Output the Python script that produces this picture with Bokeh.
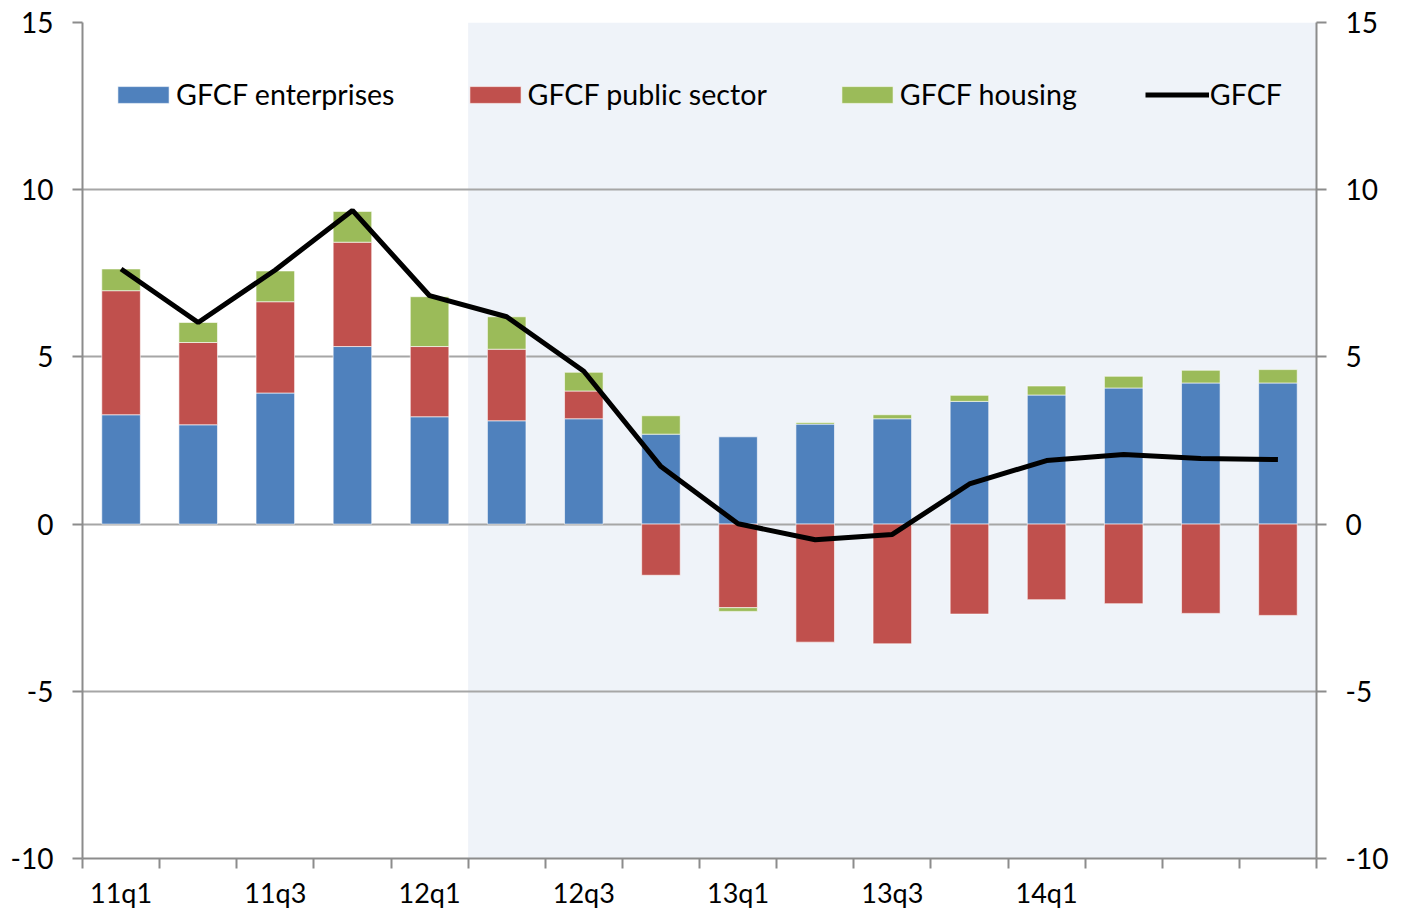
from bokeh.plotting import figure
from bokeh.models import (ColumnDataSource, LinearAxis, FixedTicker, BoxAnnotation,
                          Legend, LegendItem, Range1d)
from bokeh.embed import file_html
from bokeh.resources import INLINE

quarters = ["11q1", "11q2", "11q3", "11q4", "12q1", "12q2", "12q3", "12q4",
            "13q1", "13q2", "13q3", "13q4", "14q1", "14q2", "14q3", "14q4"]
label_idx = [0, 2, 4, 6, 8, 10, 12]
y_ticks = [-10, -5, 0, 5, 10, 15]
y_labels = ["-10", "-5", "0", "5", "10", "15"]

enterprises = [3.27, 2.97, 3.92, 5.31, 3.21, 3.09, 3.15, 2.69, 2.61, 2.99, 3.15, 3.67, 3.86, 4.07, 4.22, 4.22]
public = [3.71, 2.46, 2.73, 3.12, 2.10, 2.14, 0.83, -1.53, -2.50, -3.53, -3.58, -2.69, -2.26, -2.38, -2.67, -2.73]
housing = [0.65, 0.60, 0.92, 0.92, 1.49, 0.97, 0.56, 0.55, -0.11, 0.05, 0.12, 0.18, 0.27, 0.35, 0.38, 0.40]
gfcf = [7.63, 6.03, 7.60, 9.38, 6.83, 6.20, 4.57, 1.72, 0.01, -0.47, -0.31, 1.20, 1.90, 2.08, 1.96, 1.93]

shade_from = 5  # index of 12q2

FONT = "Lato"
FS = "28px"
GRAY = "#8c8c8c"

x = list(range(len(quarters)))

# stacking: positives upward, negatives downward
pos = [0.0] * len(x)
neg = [0.0] * len(x)
stacks = []
for vals in (enterprises, public, housing):
    bottoms, tops = [], []
    for i, v in enumerate(vals):
        if v >= 0:
            bottoms.append(pos[i]); tops.append(pos[i] + v); pos[i] += v
        else:
            bottoms.append(neg[i]); tops.append(neg[i] + v); neg[i] += v
    stacks.append((bottoms, tops))

p = figure(frame_width=1234, frame_height=836, output_backend="svg", toolbar_location=None,
           x_range=Range1d(-0.5, len(x) - 0.5), y_range=Range1d(-10, 15),
           min_border_left=82, min_border_right=72, min_border_top=22, min_border_bottom=50,
           background_fill_color="white", border_fill_color="white", outline_line_color=None)

p.add_layout(BoxAnnotation(left=shade_from - 0.5, right=len(x) - 0.5, fill_color="#eff3f9",
                           fill_alpha=1, line_color=None, level="image"))

colors = ["#4f81bd", "#c0504d", "#9bbb59"]
names = ["GFCF enterprises", "GFCF public sector", "GFCF housing"]
items = []
for (b, t), c, n in zip(stacks, colors, names):
    src = ColumnDataSource(dict(x=x, bottom=b, top=t))
    r = p.vbar(x="x", bottom="bottom", top="top", width=0.5, source=src, fill_color=c,
               line_color="white", line_alpha=0.6, line_width=1)
    items.append(LegendItem(label=n, renderers=[r]))

lsrc = ColumnDataSource(dict(x=x, y=gfcf))
lr = p.line("x", "y", source=lsrc, line_color="black", line_width=5)
items.append(LegendItem(label="GFCF", renderers=[lr]))

# axes
p.xaxis.ticker = FixedTicker(ticks=label_idx, minor_ticks=[i - 0.5 for i in range(len(x) + 1)])
p.xaxis.major_label_overrides = {i: quarters[i] for i in label_idx}
p.xaxis.major_tick_line_color = None
p.xaxis.major_tick_out = 10
p.xaxis.major_tick_in = 0
p.xaxis.minor_tick_out = 10
p.xaxis.minor_tick_in = 0
p.xaxis.minor_tick_line_color = GRAY
p.xaxis.minor_tick_line_width = 2
p.xaxis.axis_line_color = GRAY
p.xaxis.axis_line_width = 2
p.xaxis.major_label_standoff = 7

yt = FixedTicker(ticks=y_ticks)
p.yaxis.ticker = yt
right = LinearAxis(ticker=yt)
p.add_layout(right, "right")
for ax in (p.yaxis[0], right):
    ax.axis_line_color = GRAY
    ax.axis_line_width = 2
    ax.major_tick_line_color = GRAY
    ax.major_tick_line_width = 2
    ax.major_tick_out = 10
    ax.major_tick_in = 0
    ax.minor_tick_line_color = None
    ax.major_label_standoff = 19
    ax.major_label_overrides = dict(zip(y_ticks, y_labels))
for ax in p.axis:
    ax.major_label_text_font = FONT
    ax.major_label_text_font_size = FS
    ax.major_label_text_color = "black"
    ax.major_label_text_line_height = 1.0
p.xaxis.major_label_text_font_size = "27px"

p.xgrid.grid_line_color = None
p.ygrid.ticker = yt
p.ygrid.grid_line_color = "#a6a6a6"
p.ygrid.grid_line_width = 2

legend = Legend(items=items, orientation="horizontal", location=(29, 747),
                spacing=68, glyph_width=64, glyph_height=21, label_standoff=1,
                padding=0, margin=0, border_line_color=None, background_fill_alpha=0,
                label_text_font=FONT, label_text_font_size="28.6px", label_text_color="black")
p.add_layout(legend, "center")

open("out.html", "w").write(file_html(p, INLINE))
